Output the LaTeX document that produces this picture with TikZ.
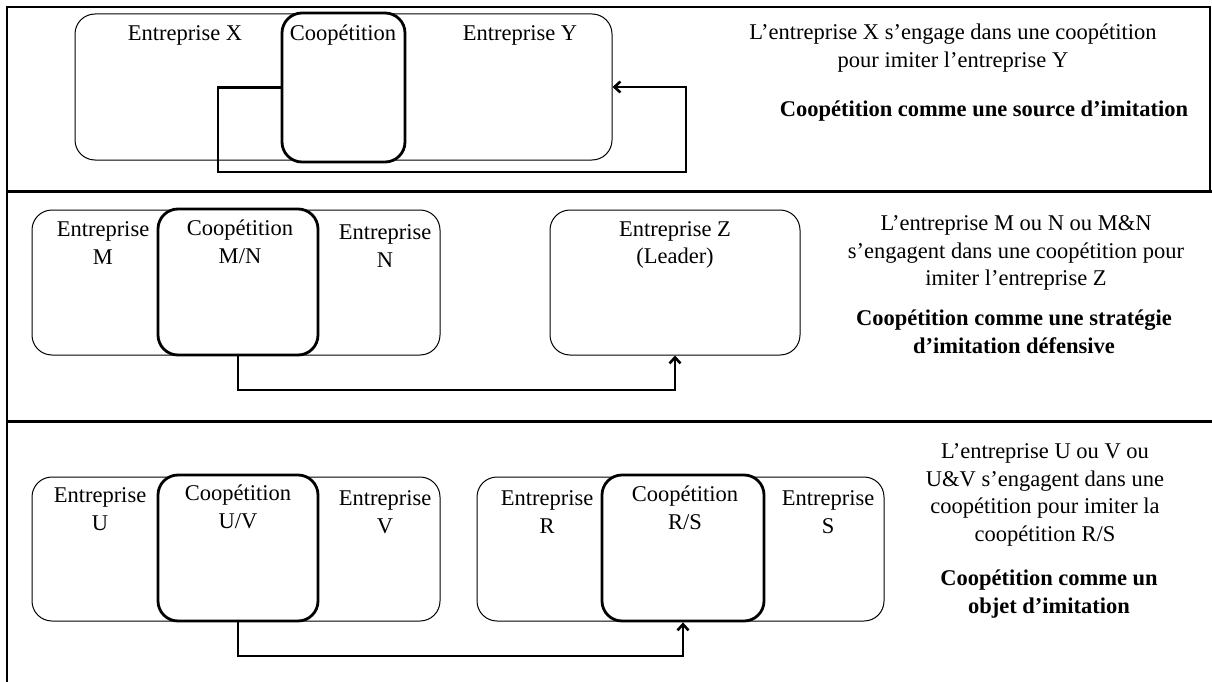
\documentclass[tikz,border=0pt]{standalone}
\usepackage{fontspec}
\setmainfont{Liberation Serif}
\usetikzlibrary{arrows.meta}

\begin{document}
\begin{tikzpicture}[x=1pt,y=-1pt,
    every node/.style={font=\fontsize{22.5}{27.5}\selectfont,align=center,inner sep=0pt},
    firm/.style={draw,rounded corners=20pt,line width=1pt},
    coop/.style={draw,fill=white,rounded corners=20pt,line width=2.8pt},
    flow/.style={line width=2.6pt,-{Straight Barb[length=6pt,width=11pt]}},
    title/.style={font=\fontsize{22.5}{27.5}\selectfont\bfseries}]

    \useasboundingbox (0,0) rectangle (1212,682);

    % frame and row separators
    \draw[line width=1.4pt] (7,682) -- (7,7) -- (1210,7) -- (1210,191);
    \draw[line width=3pt] (7,191) -- (1212,191);
    \draw[line width=3pt] (7,421) -- (1212,421);

    % row 1: source d'imitation
    \node[firm,minimum width=537pt,minimum height=146pt] (outerA) at (343.5,87) {};
    \node[coop,minimum width=123pt,minimum height=149pt] (coopA) at (343.5,87.5) {};
    \node (firmX) at (185,35) {Entreprise X};
    \node (coopAlbl) at (343,35) {Coopétition};
    \node (firmY) at (520,35) {Entreprise Y};
    \coordinate (loopA) at (218,172);
    \coordinate (turnA) at (686,87);
    \draw[flow] (coopA.west) -| (loopA) -| (turnA) -- (outerA.east);

    \node (descA) at (953,48) {L’entreprise X s’engage dans une coopétition\\pour imiter l’entreprise Y};
    \node[title] (titleA) at (984,111) {Coopétition comme une source d’imitation};

    % row 2: strategie defensive
    \node[firm,minimum width=408pt,minimum height=145pt] (outerB) at (236,282.5) {};
    \node[coop,minimum width=160pt,minimum height=146pt] (coopB) at (238,282) {};
    \node[firm,minimum width=250pt,minimum height=145pt] (zB) at (675,282.5) {};
    \node (firmM) at (103,243) {Entreprise\\M};
    \node (coopBlbl) at (240,242) {Coopétition\\M/N};
    \node (firmN) at (385,246) {Entreprise\\N};
    \node (firmZ) at (675,245) {Entreprise Z\\(Leader)};
    \coordinate (baseB) at (0,390);
    \draw[flow] (coopB.south) -- (coopB.south |- baseB) -| (zB.south);

    \node (descB) at (1016,253) {L’entreprise M ou N ou M\&N\\s’engagent dans une coopétition pour\\imiter l’entreprise Z};
    \node[title] (titleB) at (1014,332) {Coopétition comme une stratégie\\d’imitation défensive};

    % row 3: objet d'imitation
    \node[firm,minimum width=408pt,minimum height=144pt] (outerC) at (236,549) {};
    \node[coop,minimum width=160pt,minimum height=146pt] (coopC) at (238,548) {};
    \node[firm,minimum width=407pt,minimum height=144pt] (outerD) at (680.5,549) {};
    \node[coop,minimum width=162pt,minimum height=146pt] (coopD) at (683,548) {};
    \node (firmU) at (100,509) {Entreprise\\U};
    \node (coopClbl) at (238,507) {Coopétition\\U/V};
    \node (firmV) at (385,512) {Entreprise\\V};
    \node (firmR) at (547,512) {Entreprise\\R};
    \node (coopDlbl) at (685,508) {Coopétition\\R/S};
    \node (firmS) at (828,512) {Entreprise\\S};
    \coordinate (baseC) at (0,656);
    \draw[flow] (coopC.south) -- (coopC.south |- baseC) -| (coopD.south);

    \node (descC) at (1045,495) {L’entreprise U ou V ou\\U\&V s’engagent dans une\\coopétition pour imiter la\\coopétition R/S};
    \node[title] (titleC) at (1049,594) {Coopétition comme un\\objet d’imitation};

\end{tikzpicture}
\end{document}
